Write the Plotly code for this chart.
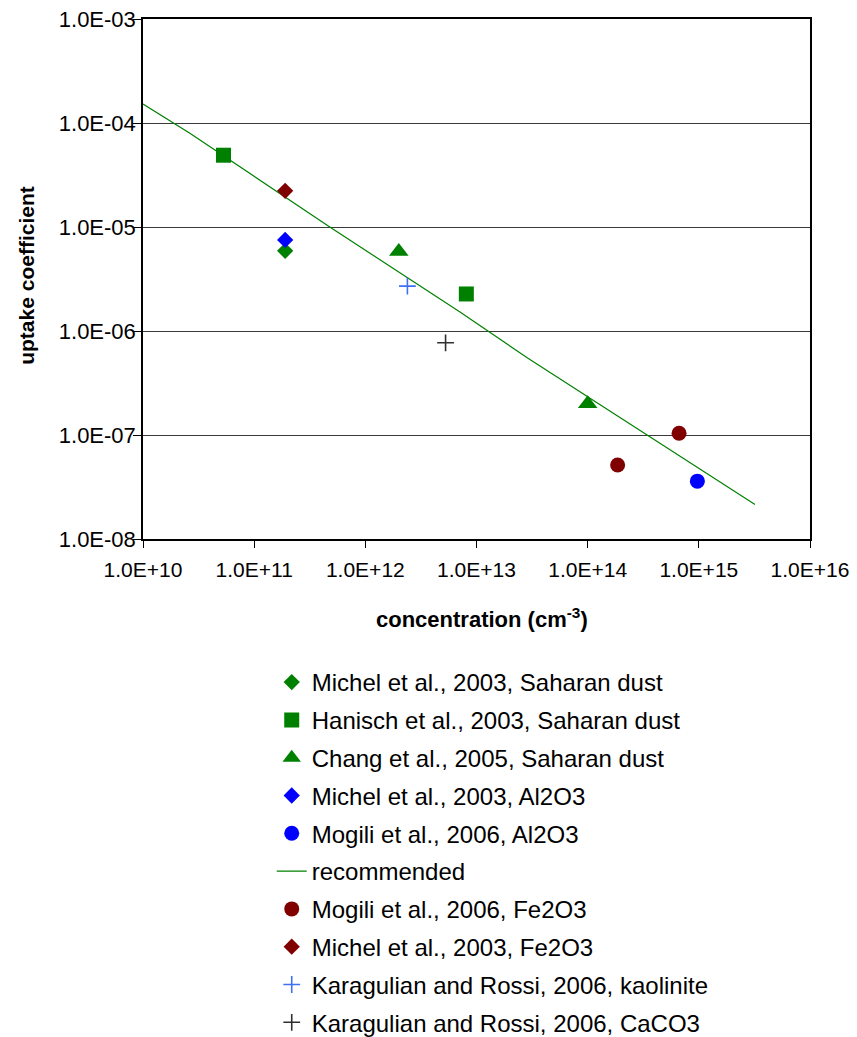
import plotly.graph_objects as go

# ---- data ----
michel_sd_x = [1.9e11]
michel_sd_y = [5.9e-6]
hanisch_x = [5.3e10, 8.1e12]
hanisch_y = [4.9e-5, 2.27e-6]
chang_x = [2.0e12, 1.0e14]
chang_y = [5.8e-6, 2.0e-7]
michel_al_x = [1.9e11]
michel_al_y = [7.5e-6]
mogili_al_x = [9.7e14]
mogili_al_y = [3.6e-8]
rec_x = [1.0e10, 2.64e10, 4.79e11, 7.05e12, 2.88e13, 7.67e14, 3.2e15]
rec_y = [1.52e-4, 7.96e-5, 1.0e-5, 1.53e-6, 5.5e-7, 5.75e-8, 2.15e-8]
mogili_fe_x = [1.86e14, 6.64e14]
mogili_fe_y = [5.15e-8, 1.04e-7]
michel_fe_x = [1.9e11]
michel_fe_y = [2.23e-5]
kaol_x = [2.39e12]
kaol_y = [2.7e-6]
caco3_x = [5.27e12]
caco3_y = [7.7e-7]

x_tickvals = [1e10, 1e11, 1e12, 1e13, 1e14, 1e15, 1e16]
x_ticktext = ["1.0E+10", "1.0E+11", "1.0E+12", "1.0E+13", "1.0E+14", "1.0E+15", "1.0E+16"]
y_tickvals = [1e-8, 1e-7, 1e-6, 1e-5, 1e-4, 1e-3]
y_ticktext = ["1.0E-08", "1.0E-07", "1.0E-06", "1.0E-05", "1.0E-04", "1.0E-03"]

GREEN = "#008000"
BLUE = "#0000FF"
DRED = "#800000"
LBLUE = "#3F6FF5"
BLACK = "#303030"
FONT = "Liberation Sans, Arial, sans-serif"

fig = go.Figure()

def add_pts(name, x, y, symbol, color, size, lw=0):
    fig.add_trace(go.Scatter(
        x=x, y=y, mode="markers", name=name, legendgroup=name,
        marker=dict(symbol=symbol, color=color, size=size,
                    line=dict(color=color, width=lw)),
    ))

add_pts("Michel et al., 2003, Saharan dust", michel_sd_x, michel_sd_y, "diamond", GREEN, 12.5)
add_pts("Hanisch et al., 2003, Saharan dust", hanisch_x, hanisch_y, "square", GREEN, 15)
add_pts("Chang et al., 2005, Saharan dust", chang_x, chang_y, "triangle-up", GREEN, 17)
add_pts("Michel et al., 2003, Al2O3", michel_al_x, michel_al_y, "diamond", BLUE, 12.5)
add_pts("Mogili et al., 2006, Al2O3", mogili_al_x, mogili_al_y, "circle", BLUE, 15)
fig.add_trace(go.Scatter(x=rec_x, y=rec_y, mode="lines", name="recommended",
                         legendgroup="recommended",
                         line=dict(color=GREEN, width=1.2)))
add_pts("Mogili et al., 2006, Fe2O3", mogili_fe_x, mogili_fe_y, "circle", DRED, 15)
add_pts("Michel et al., 2003, Fe2O3", michel_fe_x, michel_fe_y, "diamond", DRED, 12.5)
add_pts("Karagulian and Rossi, 2006, kaolinite", kaol_x, kaol_y, "cross-thin", LBLUE, 12, lw=1.6)
add_pts("Karagulian and Rossi, 2006, CaCO3", caco3_x, caco3_y, "cross-thin", BLACK, 12, lw=1.6)

fig.update_layout(
    width=857, height=1037,
    margin=dict(l=143, r=47, t=19, b=498, autoexpand=False),
    paper_bgcolor="white", plot_bgcolor="white",
    font=dict(family=FONT, color="black", size=21),
    showlegend=True,
    legend=dict(x=0.193, y=-0.2327, xanchor="left", yanchor="top",
                font=dict(size=24, family=FONT, color="black"),
                tracegroupgap=3.6, bgcolor="rgba(0,0,0,0)"),
    xaxis=dict(type="log", range=[10, 16], tickvals=x_tickvals, ticktext=x_ticktext,
               showgrid=False, showline=True, linecolor="black", linewidth=1.5,
               mirror=True, ticks="outside", ticklen=7, tickcolor="black", tickwidth=1.3,
               ticklabelstandoff=4, ticklabeloverflow="allow",
               tickfont=dict(size=21), zeroline=False),
    yaxis=dict(type="log", range=[-8, -3], tickvals=y_tickvals, ticktext=y_ticktext,
               showgrid=True, gridcolor="#3a3a3a", gridwidth=1.2,
               showline=True, linecolor="black", linewidth=1.5, mirror=True,
               ticks="outside", ticklen=8, tickcolor="black", tickwidth=1.3,
               ticklabelstandoff=-7, ticklabeloverflow="allow",
               tickfont=dict(size=22), zeroline=False),
    annotations=[
        dict(text="<b>concentration (cm<sup>-3</sup>)</b>", xref="paper", yref="paper",
             x=0.508, y=-0.152, xanchor="center", yanchor="middle", showarrow=False,
             font=dict(size=22, family=FONT, color="black")),
        dict(text="<b>uptake coefficient</b>", xref="paper", yref="paper",
             x=-0.174, y=0.508, xanchor="center", yanchor="middle", showarrow=False,
             textangle=-90, font=dict(size=21, family=FONT, color="black")),
    ],
)

# remove the browser's default 8px body margin so the figure fills the window
fig.write_html("out.html", config={"displayModeBar": False},
               post_script="document.body.style.margin='0';")
